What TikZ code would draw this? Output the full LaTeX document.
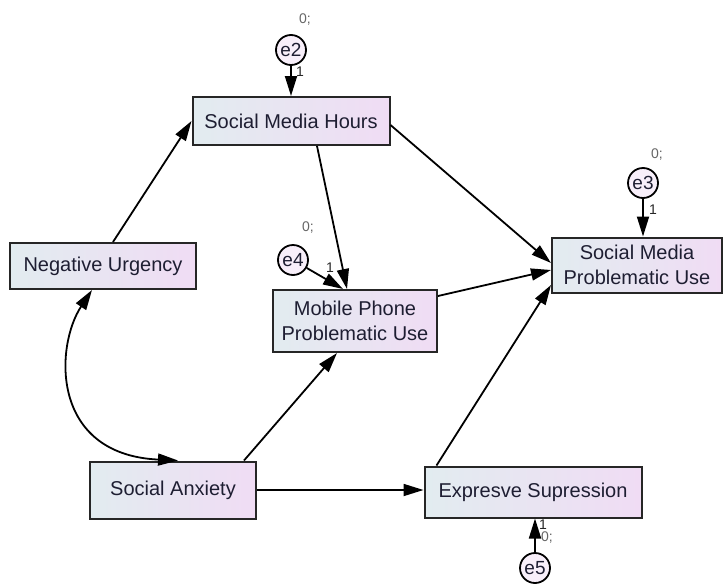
\documentclass[tikz,border=0pt]{standalone}
\usepackage{fontspec}
\setmainfont{Liberation Sans}
\usetikzlibrary{arrows.meta}
\definecolor{boxl}{RGB}{226,236,240}
\definecolor{boxr}{RGB}{240,220,244}
\definecolor{ink}{RGB}{30,30,50}
\tikzstyle{bx}=[draw=black!85, line width=2pt, left color=boxl, right color=boxr, inner sep=0pt, align=center, text=ink, font=\fontsize{20}{25}\selectfont]
\tikzstyle{er}=[circle, draw=black, line width=1.8pt, fill=boxr!45!white, minimum size=30pt, inner sep=0pt, text=ink, font=\fontsize{19}{20}\selectfont]
\tikzstyle{ar}=[line width=1.8pt, -{Triangle[length=20pt,width=12pt]}]
\tikzstyle{nt}=[font=\fontsize{14}{14}\selectfont, text=black!60, inner sep=0pt]
\tikzstyle{on}=[font=\fontsize{14}{14}\selectfont, text=black!85, inner sep=0pt]

\begin{document}
\begin{tikzpicture}[x=1pt, y=-1pt]
\useasboundingbox (0,0) rectangle (726,584);

\node[bx, minimum width=197pt, minimum height=48pt] (smh) at (291,121) {Social Media Hours};
\node[bx, minimum width=186pt, minimum height=46pt] (nu) at (103,266) {Negative Urgency};
\node[bx, minimum width=164pt, minimum height=62pt] (mppu) at (355,321) {Mobile Phone\\Problematic Use};
\node[bx, minimum width=170pt, minimum height=55pt] (smpu) at (637,265) {Social Media\\Problematic Use};
\node[bx, minimum width=166pt, minimum height=57pt] (sa) at (173,490) {Social Anxiety};
\node[bx, minimum width=217pt, minimum height=51pt] (es) at (533,492) {Expresve Supression};

\node[er] (e2) at (291,50) {e2};
\node[er] (e3) at (643,183) {e3};
\node[er] (e4) at (293,260) {e4};
\node[er] (e5) at (535,568) {e5};

\node[nt] (e2z) at (305,20) {0;};
\node[on] (e2o) at (300,72) {1};
\node[nt] (e3z) at (657,155) {0;};
\node[on] (e3o) at (653,210) {1};
\node[nt] (e4z) at (308,228) {0;};
\node[on] (e4o) at (330,268) {1};
\node[on] (e5o) at (543,525) {1};
\node[nt] (e5z) at (547,538) {0;};

\draw[ar] (e2.south) -- (smh.north);
\draw[ar] (e3.south) -- (e3.south |- smpu.north);
\draw[ar] (e4) -- ([xshift=-12pt]mppu.north);
\draw[ar] (e5.north) -- (e5.north |- es.south);

\draw[ar] ([xshift=10pt]nu.north) -- (smh.west);
\draw[ar] ([xshift=26pt]smh.south) -- ([xshift=-8pt]mppu.north);
\draw[ar] ([yshift=-4pt]smh.east) -- ([yshift=2pt]smpu.west);
\draw[ar] ([yshift=-7pt]mppu.north east) -- ([yshift=-5pt]smpu.west);
\draw[ar] ([xshift=13pt]es.north west) -- ([yshift=-20pt]smpu.west);
\draw[ar] ([xshift=-13pt]sa.north east) -- ([xshift=-18pt]mppu.south);
\draw[ar] (sa.east) -- (sa.east -| es.west);
\draw[line width=1.8pt, {Triangle[length=20pt,width=12pt]}-{Triangle[length=20pt,width=12pt]}] ([xshift=-11pt]nu.south) .. controls +(-37,56) and +(-128,-6) .. ([xshift=5pt]sa.north);

\end{tikzpicture}
\end{document}
